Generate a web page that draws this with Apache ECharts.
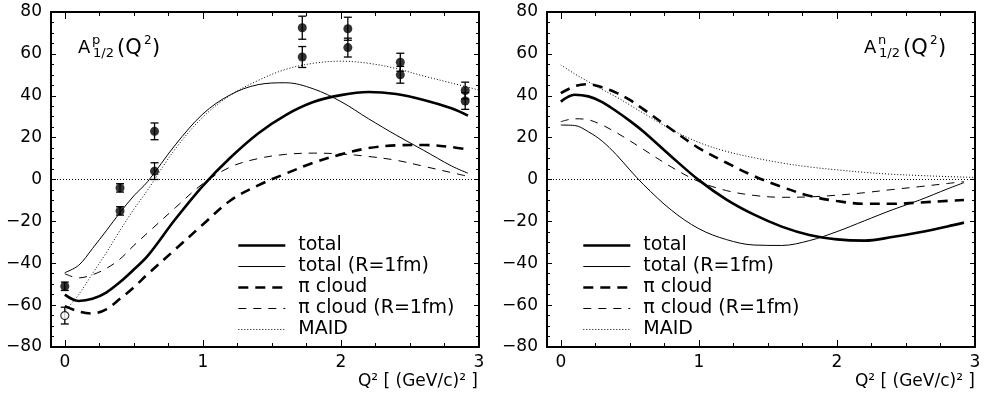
<!DOCTYPE html>
<html>
<head>
<meta charset="utf-8">
<script src="https://cdn.jsdelivr.net/npm/echarts@6/dist/echarts.min.js"></script>
<style>
  html, body { margin: 0; padding: 0; background: #fff; }
  #chart { width: 991px; height: 397px; }
</style>
</head>
<body>
<div id="chart"></div>
<script>
// Q^2 grid of the model curves, (GeV/c)^2
const q2 = [0, 0.1, 0.2, 0.3, 0.4, 0.5, 0.6, 0.8, 1.0, 1.2, 1.4, 1.6, 1.8, 2.0, 2.2, 2.4, 2.6, 2.8, 2.92];
const q2Maid = [0, 0.1, 0.2, 0.3, 0.4, 0.5, 0.6, 0.8, 1.0, 1.2, 1.4, 1.6, 1.8, 2.0, 2.2, 2.4, 2.6, 2.8, 3.0];

// proton A_1/2
const pTotal = [-55, -58, -57, -54, -49, -43, -36.5, -19, -3, 10.5, 22, 30.8, 37, 40.3, 41.8, 40.8, 38, 34, 30.5];
const pTotalR1 = [-44.5, -41, -33, -24.5, -15.8, -7.8, -1, 16.5, 31.3, 40.5, 45.3, 46.2, 43.3, 37.2, 29, 21.2, 13.9, 6.5, 3];
const pCloud = [-60.5, -63, -64, -62, -57, -51.5, -45.2, -33.4, -21.5, -10, -2.8, 2.8, 8, 12, 15, 16.3, 16.5, 15.5, 14.3];
const pCloudR1 = [-45, -47, -45.5, -42.5, -38, -31.5, -25.5, -13.5, -2, 6, 10, 12, 12.6, 12.2, 11, 9.2, 6.3, 3.3, 1.5];
const pMaid = [-63, -55, -45, -35, -24.3, -14.2, -5, 14.6, 29.8, 40.3, 47.3, 52.6, 55.5, 56.5, 55.5, 53, 49.4, 46.1, 42.7];

// neutron A_1/2
const nTotal = [37.2, 40.5, 39.7, 37, 32.7, 28, 22.8, 11, -0.3, -9.6, -16.8, -22.5, -26.5, -28.6, -29.2, -27.5, -25.2, -22.4, -20.6];
const nTotalR1 = [26, 25.8, 22.8, 18.3, 12, 4.6, -2.5, -14.6, -23.5, -28.7, -31.3, -31.5, -29.2, -24.9, -19.7, -14.5, -9.8, -4.5, -1.5];
const nCloud = [41.2, 44.5, 45.5, 44, 41.5, 38, 33.5, 24, 15, 8, 1.6, -3.5, -7.8, -10.3, -11.6, -11.6, -11, -10.2, -9.8];
const nCloudR1 = [27.6, 29, 28.5, 26, 22.5, 18.5, 14.3, 6, -1, -5.3, -7.6, -8.5, -8.3, -7.5, -6.3, -4.8, -3.4, -1.9, -1];
const nMaid = [54.7, 50.5, 46.7, 43, 39.5, 35.6, 31.6, 23.9, 17.7, 13.4, 10.4, 7.9, 6, 4.6, 3.4, 2.5, 1.9, 1.4, 1];

// proton data points
const expQ2 = [0, 0.4, 0.4, 0.65, 0.65, 1.72, 1.72, 2.05, 2.05, 2.43, 2.43, 2.9, 2.9];
const expA = [-51, -4, -15, 23, 4, 72.5, 58.5, 72, 63, 56, 50, 42.5, 37.5];
const expErr = [2, 2, 2, 4, 4, 5.5, 5, 5.5, 4.5, 4.3, 4, 4, 4];
const openQ2 = [0];
const openA = [-65];
const openErr = [4];

const xMajor = [0, 1, 2, 3];
const xMinor = [0.25, 0.5, 0.75, 1.25, 1.5, 1.75, 2.25, 2.5, 2.75];
const names = ["total", "total (R=1fm)", "π cloud", "π cloud (R=1fm)", "MAID"];

const FONT = "DejaVu Sans";
const lineStyles = [
  { width: 2.6, type: "solid" },
  { width: 1, type: "solid" },
  { width: 2.6, type: [10, 7] },
  { width: 1, type: [8, 7] },
  { width: 1, type: [1, 2] },
];

const pairs = (xs, ys) => xs.map((x, i) => [x, ys[i]]);
const minus = (v) => (v < 0 ? "\u2212" + -v : String(v));

const myChart = echarts.init(document.getElementById("chart"), null, { renderer: "canvas" });

const xAxes = [];
const yAxes = [];
[0, 1].forEach((gi) => {
  const base = {
    gridIndex: gi, type: "value", min: -0.1, max: 3,
    splitLine: { show: false },
    axisLine: { show: true, onZero: false, lineStyle: { color: "#000", width: 2 } },
  };
  ["bottom", "top"].forEach((pos) => {
    xAxes.push({
      ...base, position: pos,
      axisTick: { show: true, inside: true, length: 7, customValues: xMajor, lineStyle: { color: "#000", width: 1 } },
      axisLabel: {
        show: pos === "bottom", customValues: xMajor, margin: 7,
        fontFamily: FONT, fontSize: 17, color: "#000",
      },
    });
    xAxes.push({
      ...base, position: pos,
      axisLine: { show: false, onZero: false },
      axisTick: { show: true, inside: true, length: 4, customValues: xMinor, lineStyle: { color: "#000", width: 1 } },
      axisLabel: { show: false },
    });
  });
  ["left", "right"].forEach((pos) => {
    yAxes.push({
      gridIndex: gi, type: "value", position: pos, min: -80, max: 80, interval: 20,
      splitLine: { show: false },
      axisLine: { show: true, onZero: false, lineStyle: { color: "#000", width: 2 } },
      axisTick: { show: true, inside: true, length: 5, lineStyle: { color: "#000", width: 1 } },
      minorTick: { show: true, splitNumber: 4, length: 3, lineStyle: { color: "#000", width: 1 } },
      axisLabel: {
        show: pos === "left", margin: 9, formatter: minus,
        fontFamily: FONT, fontSize: 17, color: "#000",
      },
    });
  });
});

function curveSeries(gi, curves) {
  return curves.map((ys, i) => ({
    type: "line",
    name: names[i],
    xAxisIndex: gi * 4,
    yAxisIndex: gi * 2,
    data: pairs(i === 4 ? q2Maid : q2, ys),
    symbol: "none",
    showSymbol: false,
    smooth: 0.35,
    lineStyle: { color: "#000", ...lineStyles[i] },
    z: 2,
    markLine: i === 0 ? {
      silent: true, symbol: "none", label: { show: false },
      lineStyle: { color: "#000", type: [1, 2], width: 1 },
      data: [{ yAxis: 0 }],
    } : undefined,
  }));
}

function errorBars(xs, ys, es) {
  return {
    type: "custom",
    xAxisIndex: 0, yAxisIndex: 0,
    data: xs.map((x, i) => [x, ys[i], es[i]]),
    encode: { x: 0, y: 1 },
    z: 3,
    renderItem(params, api) {
      const x = api.value(0), y = api.value(1), e = api.value(2);
      const top = api.coord([x, y + e]);
      const bot = api.coord([x, y - e]);
      const st = { stroke: "#000", lineWidth: 1.3 };
      return {
        type: "group",
        children: [
          { type: "line", shape: { x1: top[0], y1: top[1], x2: bot[0], y2: bot[1] }, style: st },
          { type: "line", shape: { x1: top[0] - 4, y1: top[1], x2: top[0] + 4, y2: top[1] }, style: st },
          { type: "line", shape: { x1: bot[0] - 4, y1: bot[1], x2: bot[0] + 4, y2: bot[1] }, style: st },
        ],
      };
    },
  };
}

function label(x, y, text, size) {
  return {
    type: "text", silent: true,
    style: {
      x, y, text, fill: "#000", font: size + "px " + FONT,
      textAlign: "left", textVerticalAlign: "middle", align: "left", verticalAlign: "middle",
    },
  };
}

function title(dx, sup) {
  return [
    label(78 + dx, 48, "A", 18),
    label(92 + dx, 41, sup, 13),
    label(93 + dx, 54, "1/2", 13),
    label(117 + dx, 49, "(Q", 21),
    label(144 + dx, 41, "2", 12),
    label(152 + dx, 49, ")", 21),
  ];
}

const legends = [232, 577].map((left) => ({
  orient: "vertical", left, top: 231,
  itemWidth: 47, itemHeight: 14, itemGap: 2,
  selectedMode: false,
  data: names.map((name, i) => ({
    name,
    itemStyle: { opacity: 0 },
    lineStyle: { color: "#000", width: lineStyles[i].width, type: lineStyles[i].type },
  })),
  textStyle: { fontFamily: FONT, fontSize: 19, color: "#000", padding: [0, 0, 0, 8] },
}));

myChart.setOption({
  animation: false,
  backgroundColor: "#fff",
  grid: [
    { left: 51, right: 512, top: 12, bottom: 50 },
    { left: 547, right: 16, top: 12, bottom: 50 },
  ],
  xAxis: xAxes,
  yAxis: yAxes,
  legend: legends,
  graphic: [
    ...title(0, "p"),
    ...title(786, "n"),
    { type: "text", silent: true, style: { x: 478, y: 382, text: "Q² [ (GeV/c)² ]", fill: "#000", font: "17px " + FONT, textAlign: "right", textVerticalAlign: "middle", align: "right", verticalAlign: "middle" } },
    { type: "text", silent: true, style: { x: 975, y: 382, text: "Q² [ (GeV/c)² ]", fill: "#000", font: "17px " + FONT, textAlign: "right", textVerticalAlign: "middle", align: "right", verticalAlign: "middle" } },
  ],
  series: [
    ...curveSeries(0, [pTotal, pTotalR1, pCloud, pCloudR1, pMaid]),
    ...curveSeries(1, [nTotal, nTotalR1, nCloud, nCloudR1, nMaid]),
    errorBars(expQ2, expA, expErr),
    errorBars(openQ2, openA, openErr),
    {
      type: "scatter", xAxisIndex: 0, yAxisIndex: 0, z: 4,
      data: pairs(expQ2, expA), symbol: "circle", symbolSize: 9,
      itemStyle: { color: "#000" },
    },
    {
      type: "scatter", xAxisIndex: 0, yAxisIndex: 0, z: 4,
      data: pairs(openQ2, openA), symbol: "circle", symbolSize: 8,
      itemStyle: { color: "#fff", borderColor: "#000", borderWidth: 1.2 },
    },
  ],
});
</script>
</body>
</html>
